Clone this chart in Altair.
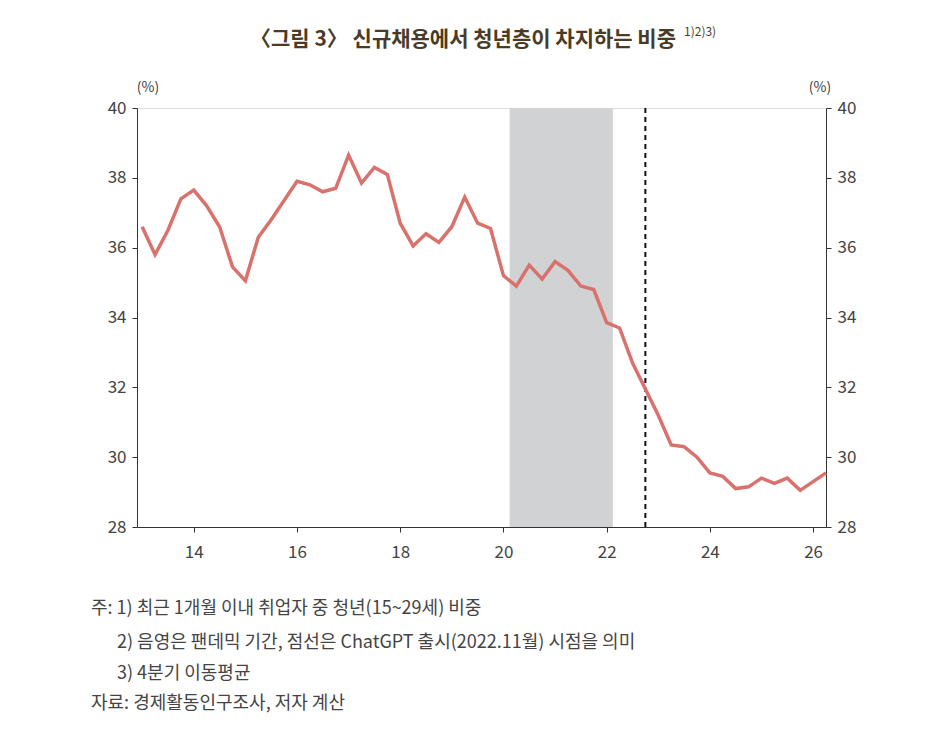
import altair as alt
import pandas as pd

# 분기별 청년층 비중(4분기 이동평균), 2013Q1 ~ 2026Q2
start_year = 13.0
share = [
    36.6, 35.8, 36.5, 37.4, 37.65, 37.2, 36.6, 35.45, 35.05, 36.3,
    36.8, 37.35, 37.9, 37.8, 37.6, 37.7, 38.65, 37.85, 38.3, 38.1,
    36.7, 36.05, 36.4, 36.15, 36.6, 37.45, 36.7, 36.55, 35.2, 34.9,
    35.5, 35.1, 35.6, 35.35, 34.9, 34.8, 33.85, 33.7, 32.7, 31.95,
    31.2, 30.35, 30.3, 30.0, 29.55, 29.45, 29.1, 29.15, 29.4, 29.25,
    29.4, 29.05, 29.3, 29.55,
]
pandemic = [20.12, 22.12]
chatgpt = 22.75
x_ticks = [14, 16, 18, 20, 22, 24, 26]
notes = [
    ("주: 1) 최근 1개월 이내 취업자 중 청년(15~29세) 비중", -46, 501),
    ("2) 음영은 팬데믹 기간, 점선은 ChatGPT 출시(2022.11월) 시점을 의미", -20, 535),
    ("3) 4분기 이동평균", -20, 566),
    ("자료: 경제활동인구조사, 저자 계산", -46, 596),
]

df = pd.DataFrame({"t": [start_year + i / 4 for i in range(len(share))], "v": share})
FONT = "Noto Sans CJK KR"
TXT = "#444444"
XDOM = [12.9, 26.25]

x = alt.X("t:Q", scale=alt.Scale(domain=XDOM, nice=False, zero=False),
          axis=alt.Axis(values=x_ticks, format="d", title=None, grid=False,
                        labelFontSize=17, labelColor=TXT, labelPadding=12,
                        domainColor="#333", tickColor="#333", tickSize=5))
yscale = alt.Scale(domain=[28, 40], nice=False, zero=False)
yaxis = dict(values=[28, 30, 32, 34, 36, 38, 40], title=None, grid=False,
             labelFontSize=17, labelColor=TXT, domainColor="#333",
             tickColor="#333", tickSize=5, labelPadding=6)

shade = alt.Chart(pd.DataFrame({"a": [pandemic[0]], "b": [pandemic[1]]})).mark_rect(
    color="#d1d2d4").encode(x=alt.X("a:Q", scale=alt.Scale(domain=XDOM, nice=False)),
                             x2="b:Q", y=alt.value(0), y2=alt.value(419))
dash = alt.Chart(pd.DataFrame({"a": [chatgpt]})).mark_rule(
    color="#111", strokeDash=[5, 4], strokeWidth=2).encode(x="a:Q", y=alt.value(0), y2=alt.value(419))
line = alt.Chart(df).mark_line(color="#d9716c", strokeWidth=3.5).encode(
    x=x, y=alt.Y("v:Q", scale=yscale, axis=alt.Axis(orient="left", **yaxis)))
right = alt.Chart(df).mark_line(opacity=0).encode(
    x="t:Q", y=alt.Y("v:Q", scale=yscale, axis=alt.Axis(orient="right", **yaxis)))

texts = pd.DataFrame({
    "s": ["(%)", "(%)", "〈그림 3〉 신규채용에서 청년층이 차지하는 비중", "1)2)3)"] + [n[0] for n in notes],
    "px": [11, 683, 326, 547] + [n[1] for n in notes],
    "py": [-20, -20, -68, -76] + [n[2] for n in notes],
    "fs": [14, 14, 21, 12] + [18] * 4,
    "fw": ["normal", "normal", "bold", "normal"] + ["normal"] * 4,
    "al": ["center", "center", "center", "left"] + ["left"] * 4,
    "c": [TXT, TXT, "#4a3b26", "#4a3b26"] + [TXT] * 4,
})
layers = []
for _, r in texts.iterrows():
    layers.append(alt.Chart(pd.DataFrame([r])).mark_text(
        font=FONT, fontSize=int(r.fs), fontWeight=r.fw, align=r.al, baseline="middle", color=r.c
    ).encode(x=alt.value(int(r.px)), y=alt.value(int(r.py)), text="s:N"))

left_layer = alt.layer(shade, dash, line)
chart = alt.layer(left_layer, right, *layers).resolve_scale(y="independent").properties(
    width=689, height=419,
    padding={"left": 129, "top": 100, "right": 110, "bottom": 211},
    autosize=alt.AutoSizeParams(type="none"),
).configure_view(stroke=None).configure(font=FONT)

chart.save("out.html", embed_options={"renderer": "svg", "actions": False})
